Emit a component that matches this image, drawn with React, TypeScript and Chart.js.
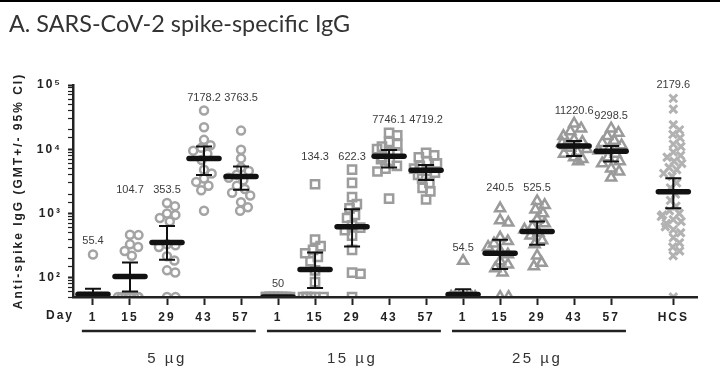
import React, { useEffect, useRef } from "react";
import { Chart, registerables } from "chart.js";

Chart.register(...registerables);

// ---------- data ----------
const tickLabels = ["1", "15", "29", "43", "57", "1", "15", "29", "43", "57", "1", "15", "29", "43", "57", "HCS"];
const tickPositions = [0, 1, 2, 3, 4, 5, 6, 7, 8, 9, 10, 11, 12, 13, 14, 15.68];
const doseLabels = ["5 µg", "15 µg", "25 µg"];
const gmtLabels = ["55.4", "104.7", "353.5", "7178.2", "3763.5", "50", "134.3", "622.3", "7746.1", "4719.2", "54.5", "240.5", "525.5", "11220.6", "9298.5", "2179.6"];
const gmt = [55.4, 104.7, 353.5, 7178.2, 3763.5, 50, 134.3, 622.3, 7746.1, 4719.2, 54.5, 240.5, 525.5, 11220.6, 9298.5, 2179.6];
const ciLow = [46, 61, 190, 3980, 2330, 50, 69, 306, 5170, 3330, 46, 137, 325, 7870, 6420, 1210];
const ciHigh = [67, 172, 640, 11000, 5370, 50, 247, 1166, 9750, 5700, 66, 389, 748, 13460, 11250, 3540];

const d5_1 = [230, 50, 50, 50, 50, 50, 50, 50, 50, 50, 50, 50, 50, 50, 50];
const d5_15 = [465, 460, 330, 300, 260, 220, 50, 50, 50, 50, 50, 50, 50, 50, 50];
const d5_29 = [1450, 1300, 1000, 950, 850, 750, 330, 320, 300, 215, 185, 130, 120, 50, 50];
const d5_43 = [40000, 22000, 14000, 11500, 10500, 9500, 8500, 6800, 4800, 4200, 3500, 3100, 2700, 2300, 1100];
const d5_57 = [19500, 9800, 7200, 5200, 4600, 4000, 3600, 3300, 2700, 2400, 2100, 1900, 1500, 1250, 1100];

const d15_1 = [50, 50, 50, 50, 50, 50, 50, 50, 50, 50, 50, 50, 50, 50, 50];
const d15_15 = [2850, 390, 310, 270, 240, 210, 180, 130, 85, 50, 50, 50, 50, 50, 50];
const d15_29 = [4800, 3000, 1800, 1400, 1200, 950, 850, 650, 600, 550, 450, 270, 120, 115, 50];
const d15_43 = [18000, 16500, 13000, 12000, 11000, 10000, 9000, 8500, 7500, 7000, 6500, 5500, 5000, 4500, 1700];
const d15_57 = [8800, 8000, 7500, 6500, 6000, 5500, 5000, 4600, 4300, 4000, 3500, 3000, 2500, 2200, 1650];

const d25_1 = [182, 50, 50, 50, 50, 50, 50, 50, 50, 50, 50, 50, 50, 50, 50];
const d25_15 = [1200, 780, 720, 420, 370, 340, 300, 260, 230, 180, 160, 140, 120, 50, 50];
const d25_29 = [1550, 1350, 1150, 1000, 800, 700, 620, 560, 500, 450, 380, 330, 220, 170, 150];
const d25_43 = [25000, 21000, 19000, 16000, 14000, 13000, 12500, 11500, 10500, 10000, 9000, 8500, 7500, 7000, 6500];
const d25_57 = [21000, 18000, 16000, 13500, 12500, 11500, 10500, 9500, 8500, 7500, 6500, 6000, 5000, 4500, 3600];

const hcs = [62000, 42000, 24000, 20000, 17000, 15000, 12000, 11000, 9000, 8000, 7500, 6500, 6000, 5200, 4800, 4200, 3800, 3000, 2500, 2000,
  1600, 1300, 1100, 1000, 950, 900, 800, 750, 700, 620, 560, 500, 420, 350, 300, 260, 220, 50];

// ---------- layout helpers ----------
const PX_X = 37;
const PX_DEC = 64.3;

function swarm(vals: number[], center: number, D: number, maxW: number) {
  const placed: { px: number; py: number }[] = [];
  const order = vals.map((_, i) => i).sort((a, b) => vals[b] - vals[a]);
  const out: { x: number; y: number }[] = new Array(vals.length);
  let k = 0;
  for (const i of order) {
    const py = Math.log10(vals[i]) * PX_DEC;
    const near = placed.filter((p) => Math.abs(p.py - py) < D);
    const cands = [0];
    near.forEach((p) => {
      const dx = Math.sqrt(D * D - (p.py - py) ** 2);
      cands.push(p.px + dx, p.px - dx);
    });
    cands.sort((a, b) => Math.abs(a) - Math.abs(b));
    let px = NaN;
    for (const c of cands) {
      if (Math.abs(c) > maxW) continue;
      if (near.every((p) => (p.px - c) ** 2 + (p.py - py) ** 2 >= D * D - 0.01)) {
        px = c;
        break;
      }
    }
    if (isNaN(px)) {
      px = ((k++ % 7) - 3) * 4;
    }
    placed.push({ px, py });
    out[i] = { x: center + px / PX_X, y: vals[i] };
  }
  return out;
}

const groups5 = [d5_1, d5_15, d5_29, d5_43, d5_57];
const groups15 = [d15_1, d15_15, d15_29, d15_43, d15_57];
const groups25 = [d25_1, d25_15, d25_29, d25_43, d25_57];
const allGroups = [...groups5, ...groups15, ...groups25, hcs];

const FONT = "'Liberation Sans', Arial, sans-serif";

const overlayPlugin = {
  id: "overlay",
  beforeUpdate(chart: any) {
    chart.ctx.letterSpacing = "2px";
  },
  beforeDraw(chart: any) {
    chart.ctx.letterSpacing = "2px";
  },
  afterDatasetsDraw(chart: any) {
    const { ctx, chartArea } = chart;
    const xs = chart.scales.x;
    const ys = chart.scales.y;
    ctx.save();
    ctx.beginPath();
    ctx.rect(chartArea.left - 30, 0, chartArea.right - chartArea.left + 60, chartArea.bottom);
    ctx.clip();
    ctx.strokeStyle = "#111";
    ctx.lineCap = "butt";
    for (let i = 0; i < gmt.length; i++) {
      const x = xs.getPixelForValue(tickPositions[i]);
      const yl = ys.getPixelForValue(ciLow[i]);
      const yh = ys.getPixelForValue(ciHigh[i]);
      const yg = ys.getPixelForValue(gmt[i]);
      ctx.lineWidth = 2;
      ctx.beginPath();
      ctx.moveTo(x, yl);
      ctx.lineTo(x, yh);
      ctx.moveTo(x - 8, yh);
      ctx.lineTo(x + 8, yh);
      ctx.moveTo(x - 8, yl);
      ctx.lineTo(x + 8, yl);
      ctx.stroke();
      ctx.lineWidth = 5.5;
      ctx.lineCap = "round";
      ctx.beginPath();
      ctx.moveTo(x - 15, yg);
      ctx.lineTo(x + 15, yg);
      ctx.stroke();
      ctx.lineCap = "butt";
    }
    ctx.restore();

    // value labels, placed above the highest point of the group (or its neighbour pair)
    ctx.save();
    ctx.letterSpacing = "0px";
    ctx.font = `11px ${FONT}`;
    ctx.fillStyle = "#3c3c3c";
    ctx.textAlign = "center";
    ctx.textBaseline = "middle";
    for (let i = 0; i < gmtLabels.length; i++) {
      let ref = Math.max(...allGroups[i]);
      if (i < 15) {
        const j = i % 5;
        const paired = j === 1 || j === 2 || i < 10;
        if (paired && (j === 1 || j === 3)) ref = Math.max(ref, ...allGroups[i + 1]);
        if (paired && (j === 2 || j === 4)) ref = Math.max(ref, ...allGroups[i - 1]);
      }
      const x = xs.getPixelForValue(tickPositions[i]);
      const y = ys.getPixelForValue(ref) - 13;
      ctx.fillText(gmtLabels[i], x, y);
    }
    ctx.restore();
  },
  afterDraw(chart: any) {
    const { ctx, chartArea } = chart;
    const xs = chart.scales.x;
    ctx.save();
    // top rule
    ctx.fillStyle = "#000";
    ctx.fillRect(0, 0, chart.width, 2);
    // title
    ctx.letterSpacing = "0px";
    ctx.font = `23.4px Lato, 'Open Sans', sans-serif`;
    ctx.fillStyle = "#333";
    ctx.textAlign = "left";
    ctx.textBaseline = "alphabetic";
    ctx.fillText("A. SARS-CoV-2 spike-specific IgG", 9, 32);
    // Day label
    ctx.letterSpacing = "2px";
    ctx.font = `bold 12px ${FONT}`;
    ctx.fillStyle = "#222";
    ctx.textAlign = "right";
    ctx.textBaseline = "middle";
    ctx.fillText("Day", chartArea.left + 1, xs.top + 19);
    // group underlines & dose labels
    ctx.strokeStyle = "#222";
    ctx.lineWidth = 2.5;
    ctx.font = `15px ${FONT}`;
    ctx.fillStyle = "#333";
    ctx.letterSpacing = "2.5px";
    ctx.textAlign = "center";
    for (let g = 0; g < 3; g++) {
      const x0 = xs.getPixelForValue(g * 5 - 0.3);
      const x1 = xs.getPixelForValue(g * 5 + 4.4);
      ctx.beginPath();
      ctx.moveTo(x0, xs.top + 34);
      ctx.lineTo(x1, xs.top + 34);
      ctx.stroke();
      ctx.fillText(doseLabels[g], xs.getPixelForValue(g * 5 + 2), xs.top + 62);
    }
    ctx.restore();
  },
};

const sup: Record<string, string> = { "0": "⁰", "1": "¹", "2": "²", "3": "³", "4": "⁴", "5": "⁵" };

export default function App() {
  const ref = useRef<HTMLCanvasElement>(null);
  useEffect(() => {
    if (!ref.current) return;
    const mk = (groups: number[][], offset: number) =>
      groups.flatMap((g, i) => swarm(g, tickPositions[offset + i], 8.5, 13));
    const clip = { left: false, right: false, top: false, bottom: 0 } as any;
    const chart = new Chart(ref.current, {
      type: "scatter",
      data: {
        datasets: [
          {
            label: "5 µg",
            data: mk(groups5, 0),
            pointStyle: "circle",
            radius: 4,
            borderWidth: 2.5,
            borderColor: "#a4a4a4",
            backgroundColor: "rgba(0,0,0,0)",
            clip,
          },
          {
            label: "15 µg",
            data: mk(groups15, 5),
            pointStyle: "rect",
            radius: 5.8,
            borderWidth: 2.5,
            borderColor: "#9c9c9c",
            backgroundColor: "rgba(0,0,0,0)",
            clip,
          },
          {
            label: "25 µg",
            data: mk(groups25, 10),
            pointStyle: "triangle",
            radius: 5.8,
            borderWidth: 2.5,
            borderColor: "#9a9a9a",
            backgroundColor: "rgba(0,0,0,0)",
            clip,
          },
          {
            label: "HCS",
            data: swarm(hcs, tickPositions[15], 8, 13),
            pointStyle: "crossRot",
            radius: 5.5,
            borderWidth: 3,
            borderColor: "#b2b2b2",
            backgroundColor: "rgba(0,0,0,0)",
            clip,
          },
        ],
      },
      options: {
        animation: false,
        responsive: true,
        maintainAspectRatio: false,
        layout: { padding: { top: 85, right: 23, left: 0, bottom: 0 } },
        plugins: {
          legend: { display: false },
          tooltip: { enabled: false },
          title: { display: false },
        },
        scales: {
          x: {
            type: "linear",
            min: -0.54,
            max: 16.32,
            afterBuildTicks: (scale: any) => {
              scale.ticks = tickPositions.map((v) => ({ value: v }));
            },
            afterFit: (scale: any) => {
              scale.height = 85;
            },
            ticks: {
              autoSkip: false,
              maxRotation: 0,
              padding: 5,
              color: "#222",
              font: { family: FONT, size: 12, weight: "bold" },
              callback: (_v: any, i: number) => tickLabels[i],
            },
            grid: {
              drawOnChartArea: false,
              drawTicks: true,
              tickLength: 8,
              tickWidth: 2,
              tickColor: "#222",
            },
            border: { color: "#222", width: 2.5, z: 1 },
          },
          y: {
            type: "logarithmic",
            min: 50,
            max: 100000,
            afterFit: (scale: any) => {
              scale.width = 73;
            },
            ticks: {
              autoSkip: false,
              padding: 6,
              color: "#222",
              font: { family: FONT, size: 12, weight: "bold" },
              callback: (v: any) => {
                const e = Math.log10(Number(v));
                if (Math.abs(e - Math.round(e)) < 1e-9) return "10" + sup[String(Math.round(e))];
                return "";
              },
            },
            grid: {
              drawOnChartArea: false,
              drawTicks: true,
              tickLength: 5,
              tickWidth: (c: any) => {
                const e = Math.log10(Number(c.tick?.value));
                return Math.abs(e - Math.round(e)) < 1e-9 ? 2 : 1.2;
              },
              tickColor: "#222",
            },
            border: { color: "#222", width: 2.5, z: 1 },
            title: {
              display: true,
              text: "Anti-spike IgG (GMT+/- 95% CI)",
              color: "#222",
              font: { family: FONT, size: 12, weight: "bold" },
              padding: { top: 11, bottom: 0 },
            },
          },
        },
      },
      plugins: [overlayPlugin],
    });
    return () => chart.destroy();
  }, []);
  return (
    <div style={{ position: "fixed", left: 0, top: 0, width: 720, height: 382, background: "#fff" }}>
      <canvas ref={ref} />
    </div>
  );
}
